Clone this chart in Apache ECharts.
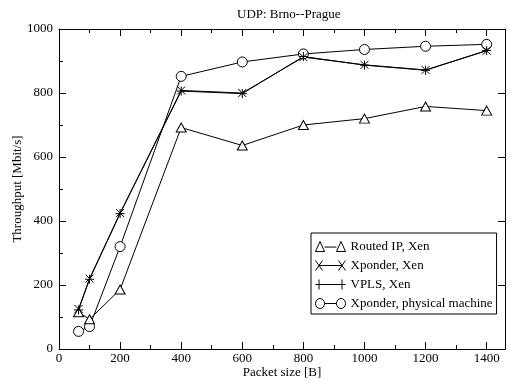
<!DOCTYPE html>
<html>
<head>
<meta charset="utf-8">
<script src="https://cdn.jsdelivr.net/npm/echarts@6/dist/echarts.min.js"></script>
<style>html,body{margin:0;padding:0;background:#fff}#c{width:510px;height:380px}</style>
</head>
<body>
<div id="c"></div>
<script>
const packetSizes = [64, 100, 200, 400, 600, 800, 1000, 1200, 1400];
const routedIpXen = [115, 93, 186, 692, 636, 700, 720, 758, 745];
const xponderXen = [125, 220, 425, 808, 800, 912, 888, 872, 932];
const vplsXen = [122, 218, 423, 806, 798, 914, 887, 871, 933];
const xponderPhysical = [55, 70, 320, 852, 897, 922, 936, 946, 952];
const seriesNames = ['Routed IP, Xen', 'Xponder, Xen', 'VPLS, Xen', 'Xponder, physical machine'];
const xTickLabels = ['0', '200', '400', '600', '800', '1000', '1200', '1400'];
const yTickLabels = ['0', '200', '400', '600', '800', '1000'];

const FONT = 'Liberation Serif';
const pairs = ys => packetSizes.map((x, i) => [x, ys[i]]);

const xMax = 1460;
const baseX = {
  type: 'value', min: 0, max: xMax, gridIndex: 0,
  splitLine: { show: false },
  axisLine: { show: true, onZero: false, lineStyle: { color: '#000', width: 1 } },
  axisLabel: { show: false },
};
const tickStyle = { color: '#000', width: 1 };

const option = {
  animation: false,
  backgroundColor: '#fff',
  title: {
    text: 'UDP: Brno--Prague', left: 232, top: 3,
    textStyle: { fontFamily: FONT, fontSize: 13, fontWeight: 'normal', color: '#000' }
  },
  grid: { left: 59, right: 5, top: 29, bottom: 31, containLabel: false, outerBoundsMode: 'none' },
  xAxis: [
    Object.assign({}, baseX, {
      position: 'bottom', interval: 200,
      name: 'Packet size [B]', nameLocation: 'middle', nameGap: 17, nameMoveOverlap: false,
      nameTextStyle: { fontFamily: FONT, fontSize: 13, color: '#000' },
      axisTick: { show: true, inside: true, length: 7, lineStyle: tickStyle },
      axisLabel: {
        show: true, margin: 3, fontFamily: FONT, fontSize: 13, color: '#000',
        formatter: v => (v % 200 === 0 && xTickLabels.includes(String(v))) ? String(v) : ''
      }
    }),
    Object.assign({}, baseX, {
      position: 'bottom', interval: 100,
      axisLine: { show: false, onZero: false },
      axisTick: { show: true, inside: true, length: 4, lineStyle: tickStyle }
    }),
    Object.assign({}, baseX, {
      position: 'top', interval: 200,
      axisTick: { show: true, inside: true, length: 7, lineStyle: tickStyle }
    }),
    Object.assign({}, baseX, {
      position: 'top', interval: 100,
      axisLine: { show: false, onZero: false },
      axisTick: { show: true, inside: true, length: 4, lineStyle: tickStyle }
    })
  ],
  yAxis: [
    {
      type: 'value', min: 0, max: 1000, interval: 200, position: 'left',
      name: 'Throughput [Mbit/s]', nameLocation: 'middle', nameGap: 35, nameMoveOverlap: false,
      nameTextStyle: { fontFamily: FONT, fontSize: 13, color: '#000' },
      splitLine: { show: false },
      axisLine: { show: true, onZero: false, lineStyle: { color: '#000', width: 1 } },
      axisTick: { show: true, inside: true, length: 7, lineStyle: tickStyle },
      minorTick: { show: true, splitNumber: 2, length: 4, lineStyle: tickStyle },
      axisLabel: {
        show: true, margin: 6, fontFamily: FONT, fontSize: 13, color: '#000',
        formatter: v => yTickLabels.includes(String(v)) ? String(v) : ''
      }
    },
    {
      type: 'value', min: 0, max: 1000, interval: 200, position: 'right',
      splitLine: { show: false },
      axisLine: { show: true, onZero: false, lineStyle: { color: '#000', width: 1 } },
      axisTick: { show: true, inside: true, length: 7, lineStyle: tickStyle },
      axisLabel: { show: false }
    }
  ],
  legend: {
    orient: 'vertical', left: 311, top: 233,
    padding: [7, 4, 4, 4],
    itemWidth: 30, itemHeight: 10, itemGap: 6, itemTextGap: 5,
    backgroundColor: '#fff', borderColor: '#000', borderWidth: 1, borderRadius: 0,
    textStyle: { fontFamily: FONT, fontSize: 13, color: '#000' },
    symbolKeepAspect: false,
    data: [
      { name: seriesNames[0], icon: 'path://M0,10L4.5,1L9,10ZM9,6L21,6M21,10L25.5,1L30,10Z',
        itemStyle: { color: 'rgba(0,0,0,0)', borderColor: '#000', borderWidth: 1 } },
      { name: seriesNames[1], icon: 'path://M0,2L7,9M0,9L7,2M3.5,5.5L26.5,5.5M23,2L30,9M23,9L30,2',
        itemStyle: { color: 'rgba(0,0,0,0)', borderColor: '#000', borderWidth: 1 } },
      { name: seriesNames[2], icon: 'path://M0,5.5L30,5.5M3.5,1.5L3.5,9.5M26.5,1.5L26.5,9.5',
        itemStyle: { color: 'rgba(0,0,0,0)', borderColor: '#000', borderWidth: 1 } },
      { name: seriesNames[3], icon: 'path://M0,5.5A4.5,4.5,0,1,0,9,5.5A4.5,4.5,0,1,0,0,5.5ZM9,5.5L21,5.5M21,5.5A4.5,4.5,0,1,0,30,5.5A4.5,4.5,0,1,0,21,5.5Z',
        itemStyle: { color: 'rgba(0,0,0,0)', borderColor: '#000', borderWidth: 1 } }
    ]
  },
  series: [
    {
      name: seriesNames[3], type: 'line', data: pairs(xponderPhysical),
      xAxisIndex: 0, yAxisIndex: 0,
      symbol: 'path://M0,5A5,5,0,1,0,10,5A5,5,0,1,0,0,5Z', symbolSize: 10,
      lineStyle: { color: '#000', width: 1 },
      itemStyle: { color: '#fff', borderColor: '#000', borderWidth: 1 }
    },
    {
      name: seriesNames[0], type: 'line', data: pairs(routedIpXen),
      xAxisIndex: 0, yAxisIndex: 0,
      symbol: 'path://M5,0L10,9L0,9Z', symbolSize: [10, 9],
      lineStyle: { color: '#000', width: 1 },
      itemStyle: { color: '#fff', borderColor: '#000', borderWidth: 1 }
    },
    {
      name: seriesNames[1], type: 'line', data: pairs(xponderXen),
      xAxisIndex: 0, yAxisIndex: 0,
      symbol: 'path://M0,0L10,10M10,0L0,10', symbolSize: 8,
      lineStyle: { color: '#000', width: 1 },
      itemStyle: { color: '#000', borderColor: '#000', borderWidth: 1 }
    },
    {
      name: seriesNames[2], type: 'line', data: pairs(vplsXen),
      xAxisIndex: 0, yAxisIndex: 0,
      symbol: 'path://M5,0L5,10M0,5L10,5', symbolSize: 9,
      lineStyle: { color: '#000', width: 1 },
      itemStyle: { color: '#000', borderColor: '#000', borderWidth: 1 }
    }
  ]
};

const chart = echarts.init(document.getElementById('c'), null, { renderer: 'canvas' });
chart.setOption(option);
</script>
</body>
</html>
